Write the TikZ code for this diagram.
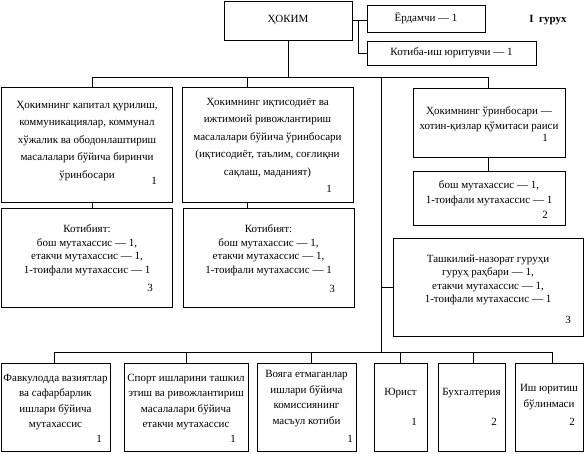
\documentclass[tikz,border=0pt]{standalone}
\usepackage{fontspec}
\setmainfont{Liberation Serif}
\tikzset{
  box/.style={draw, line width=0.8pt, inner sep=0pt, minimum width=#1},
  txt/.style={align=center, inner sep=0pt, font=\fontsize{11}{#1}\selectfont},
  txt/.default=15,
  num/.style={inner sep=0pt, font=\fontsize{11}{13}\selectfont},
  conn/.style={line width=0.8pt},
}
\newcommand{\bx}[5]{\node[box={#4pt-#2pt}, minimum height={#5pt-#3pt}] (#1) at ({(#2+#4)/2},{(#3+#5)/2}) {};}
\begin{document}
\begin{tikzpicture}[x=1pt,y=-1pt]
\useasboundingbox (0,0) rectangle (586,453);
% top
\bx{hokim}{224}{1}{352}{40}
\node[txt] (hokimt) at (hokim.center) {ҲОКИМ};
\bx{erd}{367}{5}{485}{32}
\node[txt] (erdt) at (erd.center) {Ёрдамчи — 1};
\bx{kot}{367}{41}{536}{65}
\node[txt] (kott) at (kot.center) {Котиба-иш юритувчи — 1};
\node[txt, font=\fontsize{11}{13}\selectfont\bfseries] (grp) at (548,20) {I\ \ гурух};
% second row
\bx{b1}{1}{87}{172}{202}
\node[txt=17.5] (b1t) at (87,141) {Ҳокимнинг капитал қурилиш,\\коммуникациялар, коммунал\\хўжалик ва ободонлаштириш\\масалалари бўйича биринчи\\ўринбосари};
\node[num] (b1n) at (154,181) {1};
\bx{b2}{182}{87}{353}{202}
\node[txt=17.5] (b2t) at (267.5,138) {Ҳокимнинг иқтисодиёт ва\\ижтимоий ривожлантириш\\масалалари бўйича ўринбосари\\(иқтисодиёт, таълим, соғлиқни\\сақлаш, маданият)};
\node[num] (b2n) at (329,189) {1};
\bx{b3}{413}{88}{565}{157}
\node[txt=15] (b3t) at (489,119.5) {Ҳокимнинг ўринбосари —\\хотин-қизлар қўмитаси раиси};
\node[num] (b3n) at (545,138) {1};
\bx{b3b}{413}{171}{565}{225}
\node[txt=14.7] (b3bt) at (489,193) {бош мутахассис — 1,\\1-тоифали мутахассис — 1};
\node[num] (b3bn) at (545,215) {2};
\bx{b1b}{1}{208}{172}{307}
\node[txt=13.5] (b1bt) at (87,250) {Котибият:\\бош мутахассис — 1,\\етакчи мутахассис — 1,\\1-тоифали мутахассис — 1};
\node[num] (b1bn) at (150,288) {3};
\bx{b2b}{183}{208}{354}{307}
\node[txt=13.5] (b2bt) at (268.5,250) {Котибият:\\бош мутахассис — 1,\\етакчи мутахассис — 1,\\1-тоифали мутахассис — 1};
\node[num] (b2bn) at (332,289) {3};
\bx{tash}{393}{238}{583}{336}
\node[txt=13.5] (tasht) at (488,280) {Ташкилий-назорат гуруҳи\\гуруҳ раҳбари — 1,\\етакчи мутахассис — 1,\\1-тоифали мутахассис — 1};
\node[num] (tashn) at (568,320) {3};
% bottom row
\bx{c1}{1}{363}{110}{451}
\node[txt=15.5] (c1t) at (55.5,402) {Фавкулодда вазиятлар\\ва сафарбарлик\\ишлари бўйича\\мутахассис};
\node[num] (c1n) at (99,439) {1};
\bx{c2}{124}{363}{248}{451}
\node[txt=15.5] (c2t) at (186,402) {Спорт ишларини ташкил\\этиш ва ривожлантириш\\масалалари бўйича\\етакчи мутахассис};
\node[num] (c2n) at (233,439) {1};
\bx{c3}{257}{363}{356}{451}
\node[txt=15.5] (c3t) at (306.5,398.5) {Вояга етмаганлар\\ишлари бўйича\\комиссиянинг\\масъул котиби};
\node[num] (c3n) at (350,439) {1};
\bx{c4}{374}{363}{427}{451}
\node[txt] (c4t) at (400.5,393) {Юрист};
\node[num] (c4n) at (414,422) {1};
\bx{c5}{438}{363}{505}{451}
\node[txt] (c5t) at (471.5,393) {Бухгалтерия};
\node[num] (c5n) at (494,422) {2};
\bx{c6}{515}{363}{583}{451}
\node[txt=16] (c6t) at (549,397) {Иш юритиш\\бўлинмаси};
\node[num] (c6n) at (572,422) {2};
% connectors
\coordinate (j1) at (358,20.5);
\coordinate (busL) at (92,77);
\coordinate (busR) at (488,77);
\coordinate (t2) at (247,77);
\coordinate (cv) at (381,77);
\coordinate (bb) at (381,352);
\coordinate (bbL) at (54,352);
\coordinate (bbR) at (552,352);
\coordinate (v3) at (311,352);
\coordinate (v5) at (473,352);
\begin{scope}[conn]
\draw (hokim.east |- j1) -- (erd.west |- j1);
\draw (j1) |- (kot.west);
\draw (hokim.south) -- (hokim.south |- busL);
\draw (busL) -- (busR);
\draw (busL) -- (busL |- b1.north);
\draw (busL |- b1.south) -- (busL |- b1b.north);
\draw (t2) -- (t2 |- b2.north);
\draw (t2 |- b2.south) -- (t2 |- b2b.north);
\draw (busR) -- (busR |- b3.north);
\draw (busR |- b3.south) -- (busR |- b3b.north);
\draw (cv) -- (bb);
\draw (cv |- tash.west) -- (tash.west);
\draw (bbL) -- (bbR);
\draw (bbL) -- (bbL |- c1.north);
\draw (c2.north |- bb) -- (c2.north);
\draw (v3) -- (v3 |- c3.north);
\draw (c4.north |- bb) -- (c4.north);
\draw (v5) -- (v5 |- c5.north);
\draw (bbR) -- (bbR |- c6.north);
\end{scope}
\end{tikzpicture}
\end{document}
